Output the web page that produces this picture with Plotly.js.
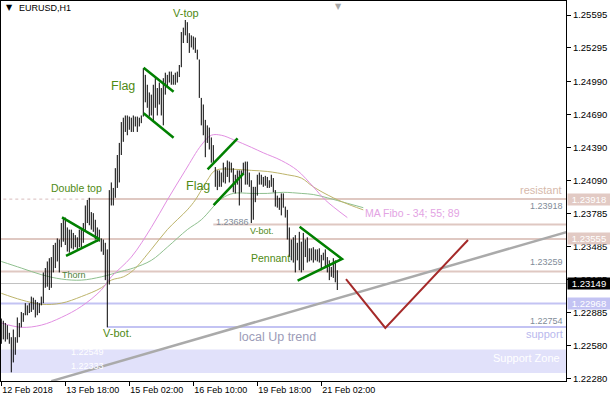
<!DOCTYPE html>
<html>
<head>
<meta charset="utf-8">
<script src="https://cdn.plot.ly/plotly-3.0.1.min.js"></script>
<style>html,body{margin:0;padding:0;background:#fff}#chart{width:610px;height:400px}</style>
</head>
<body>
<div id="chart"></div>
<script>
// ---- Data: EURUSD H1 bars (high / low), one per hour ----
const barHigh = [
1.2283,1.2281,1.2279,1.2277,1.2270,1.2266,1.2273,1.2266,1.2284,1.2279,
1.2289,1.2288,1.2297,1.2295,1.2297,1.2303,1.2302,1.2300,1.2298,1.2297,
1.2303,1.2325,1.2329,1.2335,1.2338,1.2339,1.2350,1.2352,1.2356,1.2355,
1.2370,1.2375,1.2375,1.2366,1.2364,1.2364,1.2361,1.2359,1.2357,1.2364,
1.2364,1.2370,1.2386,1.2391,1.2393,1.2380,1.2379,1.2373,1.2366,1.2364,
1.2356,1.2355,1.2352,1.2346,1.2400,1.2407,1.2402,1.2420,1.2432,1.2443,
1.2462,1.2466,1.2468,1.2468,1.2467,1.2466,1.2468,1.2467,1.2467,1.2466,
1.2468,1.2511,1.2505,1.2496,1.2489,1.2487,1.2496,1.2502,1.2493,1.2498,
1.2493,1.2502,1.2507,1.2505,1.2508,1.2508,1.2505,1.2507,1.2508,1.2514,
1.2544,1.2548,1.2555,1.2553,1.2543,1.2541,1.2540,1.2539,1.2528,1.2519,
1.2484,1.2478,1.2464,1.2459,1.2457,1.2448,1.2441,1.2421,1.2418,1.2418,
1.2416,1.2425,1.2421,1.2427,1.2426,1.2425,1.2420,1.2414,1.2418,1.2418,
1.2418,1.2425,1.2426,1.2426,1.2416,1.2409,1.2403,1.2403,1.2414,1.2416,
1.2414,1.2412,1.2413,1.2412,1.2409,1.2414,1.2411,1.2400,1.2395,1.2393,
1.2397,1.2397,1.2385,1.2382,1.2366,1.2355,1.2357,1.2359,1.2352,1.2362,
1.2353,1.2361,1.2355,1.2357,1.2347,1.2347,1.2348,1.2346,1.2346,1.2347,
1.2341,1.2343,1.2346,1.2339,1.2336,1.2330,1.2338,1.2336,1.2327
];
const barLow = [
1.2260,1.2264,1.2262,1.2264,1.2260,1.2234,1.2243,1.2250,1.2261,1.2266,
1.2275,1.2280,1.2286,1.2286,1.2288,1.2289,1.2291,1.2284,1.2286,1.2288,
1.2295,1.2297,1.2311,1.2312,1.2309,1.2311,1.2325,1.2329,1.2335,1.2325,
1.2348,1.2353,1.2350,1.2344,1.2343,1.2347,1.2346,1.2348,1.2346,1.2348,
1.2348,1.2352,1.2362,1.2370,1.2368,1.2364,1.2362,1.2355,1.2353,1.2353,
1.2344,1.2341,1.2318,1.2275,1.2314,1.2386,1.2386,1.2393,1.2402,1.2407,
1.2432,1.2444,1.2453,1.2450,1.2455,1.2453,1.2453,1.2458,1.2453,1.2458,
1.2461,1.2467,1.2480,1.2475,1.2467,1.2468,1.2462,1.2475,1.2468,1.2478,
1.2468,1.2459,1.2487,1.2494,1.2498,1.2496,1.2496,1.2496,1.2498,1.2503,
1.2512,1.2534,1.2541,1.2534,1.2525,1.2530,1.2528,1.2525,1.2519,1.2484,
1.2459,1.2450,1.2430,1.2443,1.2437,1.2425,1.2425,1.2403,1.2400,1.2403,
1.2403,1.2407,1.2406,1.2412,1.2407,1.2416,1.2398,1.2397,1.2405,1.2386,
1.2398,1.2414,1.2405,1.2405,1.2403,1.2370,1.2373,1.2389,1.2395,1.2405,
1.2405,1.2403,1.2404,1.2402,1.2402,1.2403,1.2398,1.2385,1.2384,1.2382,
1.2377,1.2384,1.2375,1.2355,1.2339,1.2336,1.2334,1.2325,1.2336,1.2327,
1.2325,1.2327,1.2339,1.2334,1.2335,1.2336,1.2334,1.2336,1.2335,1.2334,
1.2327,1.2336,1.2330,1.2325,1.2318,1.2321,1.2320,1.2316,1.2309
];

// Moving averages (MA Fibo 34 / 55 / 89)
const ma34X = [0,10,20,30,40,50,55,65,75,83,92,100,105,110,116,125,131,140,148,156,162,173];
const ma34Y = [1.2279,1.2275,1.2277,1.2284,1.2294,1.2309,1.2321,1.2339,1.2366,1.2391,1.2418,1.2441,1.2450,1.2450,1.2446,1.2439,1.2434,1.2427,1.2418,1.2403,1.2391,1.2375];
const ma55X = [0,10,20,30,40,50,55,61,66,75,83,93,97,100,103,107,116,125,133,143,150,156,166,175,181];
const ma55Y = [1.2306,1.2300,1.2296,1.2297,1.2303,1.2311,1.2318,1.2321,1.2327,1.2346,1.2364,1.2382,1.2391,1.2400,1.2409,1.2418,1.2419,1.2418,1.2417,1.2414,1.2411,1.2403,1.2393,1.2386,1.2382];
const ma89X = [0,10,20,30,40,50,60,66,75,83,93,100,110,116,125,133,141,150,156,163,173,181];
const ma89Y = [1.2335,1.2329,1.2323,1.2319,1.2318,1.2321,1.2326,1.2329,1.2336,1.2348,1.2364,1.2373,1.2392,1.2397,1.2397,1.2397,1.2398,1.2397,1.2396,1.2393,1.2388,1.2384];

// Drawn objects (bar index, price)
const triX  = [30.35,49.15,32.35];           const triY  = [1.23752,1.23552,1.23400];
const flag1UpX = [71.15,86.15];              const flag1UpY = [1.25115,1.24897];
const flag1LoX = [71.15,86.15];              const flag1LoY = [1.24700,1.24478];
const flag2AX = [103.15,118.15];             const flag2AY = [1.24190,1.24472];
const flag2BX = [106.15,121.15];             const flag2BY = [1.23864,1.24153];
const pennX = [149.15,170.35,148.15];        const pennY = [1.23667,1.23373,1.23175];
const projX = [172.35,192,233.35];           const projY = [1.23190,1.22744,1.23546];
const trendX = [25,283];                     const trendY = [1.2226,1.2362];

// Levels
const resistLevel = 1.23918, lvl2 = 1.23686, lvl3 = 1.23555, lvl4 = 1.23259;
const bidLevel = 1.23149, supp1 = 1.22968, supp2 = 1.22754;
const zoneTop = 1.22549, zoneBottom = 1.22333;

// Axis ticks
const xTickIdx = [0,32,64,96,128,160];
const xTickText = ['12 Feb 2018','13 Feb 18:00','15 Feb 02:00','16 Feb 10:00','19 Feb 18:00','21 Feb 02:00'];
const yTicks = [1.25595,1.25295,1.24990,1.24690,1.24390,1.24090,1.23785,1.23485,1.23185,1.22885,1.22580,1.22280];

// ---- Build ----
const bx = [], by = [];
barHigh.forEach((h,i)=>{ bx.push(i,i,null); by.push(barLow[i],h,null); });

const F = 'Liberation Sans, Arial, sans-serif';
const green = '#008000';
const txtGreen = '#4f8a14';
const pink = '#dfc8c2';
const blue = '#c3c3f3';

function seg(x,y,color,w){ return {type:'scatter',mode:'lines',x:x,y:y,line:{color:color,width:w},hoverinfo:'skip',showlegend:false}; }

const traces = [
  {type:'scatter',mode:'lines',x:ma89X,y:ma89Y,line:{color:'#8fc08f',width:1,shape:'spline'},showlegend:false,hoverinfo:'skip'},
  {type:'scatter',mode:'lines',x:ma55X,y:ma55Y,line:{color:'#bdb46b',width:1,shape:'spline'},showlegend:false,hoverinfo:'skip'},
  {type:'scatter',mode:'lines',x:ma34X,y:ma34Y,line:{color:'#e28fe2',width:1,shape:'spline'},showlegend:false,hoverinfo:'skip'},
  seg(trendX,trendY,'#aaaaaa',2.5),
  {type:'scatter',mode:'lines',x:bx,y:by,line:{color:'#000',width:1},connectgaps:false,showlegend:false,hoverinfo:'skip'},
  seg(triX,triY,green,2.5),
  seg(flag1UpX,flag1UpY,green,2.5),
  seg(flag1LoX,flag1LoY,green,2.5),
  seg(flag2AX,flag2AY,green,2.5),
  seg(flag2BX,flag2BY,green,2.5),
  seg(pennX,pennY,green,2.5),
  seg(projX,projY,'#a52a2a',2)
];

function hline(y,x0,x1,color,w,dash){ return {type:'line',xref:'x',yref:'y',x0:x0,x1:x1,y0:y,y1:y,layer:'below',line:{color:color,width:w,dash:dash||'solid'}}; }
const shapes = [
  {type:'rect',xref:'paper',yref:'y',x0:0,x1:1,y0:zoneBottom,y1:zoneTop,fillcolor:'#e1e1fa',line:{width:0},layer:'below'},
  hline(resistLevel,-2,43.5,'#d8bcbc',1,'dot'),
  hline(resistLevel,43.5,300,pink,2),
  hline(lvl2,106,300,pink,2),
  hline(lvl3,-2,300,pink,2),
  hline(lvl4,-2,300,pink,2),
  hline(bidLevel,-2,300,'#c0c0c0',1),
  hline(supp1,-2,300,blue,2),
  hline(supp2,53,300,blue,2)
];

function t(text,x,y,size,color,xa){ return {text:text,x:x,y:y,xref:'x',yref:'y',showarrow:false,font:{family:F,size:size,color:color},xanchor:xa||'center',yanchor:'middle'}; }
function tr(text,y,size,color,xs){ return {text:text,x:1,y:y,xref:'paper',yref:'y',showarrow:false,font:{family:F,size:size,color:color},xanchor:'right',yanchor:'middle',xshift:xs||-1}; }
function box(text,y,bg){ return {text:text,x:1,y:y,xref:'paper',yref:'y',showarrow:false,font:{family:F,size:9.5,color:'#fff'},xanchor:'left',yanchor:'middle',xshift:1,bgcolor:bg,width:42,height:11,borderpad:0}; }

const annotations = [
  t('V-top',92.5,1.25614,11,txtGreen),
  t('Flag',61,1.24949,12.5,txtGreen),
  t('Double top',37.5,1.24019,10.5,txtGreen),
  t('Thorn',36.25,1.23227,9,'#4d7f3a'),
  t('V-bot.',58,1.22698,11,txtGreen),
  t('Flag',98.5,1.24038,12.5,txtGreen),
  t('1.23686',115.5,1.23710,9,'#7f8c99'),
  t('V-bot.',130.5,1.23628,9,txtGreen),
  t('Pennant',134.5,1.23382,10.5,txtGreen),
  t('MA Fibo - 34; 55; 89',181,1.23792,10.5,'#e3a3e3','left'),
  t('local Up trend',138,1.22662,12.5,'#9c9cb8'),
  t('1.22549',34,1.22525,9,'#ffffff','left'),
  t('1.22333',34,1.22398,9,'#ffffff','left'),
  tr('resistant',1.24001,11,'#d6b9ab',-2),
  tr('1.23918',1.23855,9,'#7f8c99',-1),
  tr('1.23259',1.23345,9,'#7f8c99',-1),
  tr('1.22754',1.22808,9,'#7f8c99',-1),
  tr('support',1.22689,11,'#b9b9ee',-1),
  tr('Support Zone',1.22471,11,'#ffffff',-4),
  box('1.23918',resistLevel,'#e2cac4'),
  box('1.23555',lvl3,'#e2cac4'),
  box('1.23149',bidLevel,'#000000'),
  box('1.22968',supp1,'#c3c3f3'),
  {text:'▼',x:0.005,y:0.982,xref:'paper',yref:'paper',showarrow:false,font:{family:'DejaVu Sans',size:8,color:'#000'},xanchor:'left',yanchor:'middle'},
  {text:'EURUSD,H1',x:0.028,y:0.982,xref:'paper',yref:'paper',showarrow:false,font:{family:F,size:9,color:'#000'},xanchor:'left',yanchor:'middle'},
  {text:'▼',x:168.5,y:1,xref:'x',yref:'paper',showarrow:false,font:{family:'DejaVu Sans',size:8,color:'#a8a8a8'},xanchor:'center',yanchor:'top',yshift:1}
];

const layout = {
  width:610, height:400,
  margin:{l:1,r:44,t:1,b:19,pad:0},
  paper_bgcolor:'#fff', plot_bgcolor:'#fff',
  showlegend:false,
  xaxis:{range:[-0.15,282.35],tickvals:xTickIdx,ticktext:xTickText,ticks:'outside',ticklen:4,tickcolor:'#000',
         ticklabelposition:'outside right',showgrid:false,zeroline:false,showline:true,linecolor:'#000',linewidth:1,mirror:true,
         tickfont:{family:F,size:9,color:'#000'},fixedrange:true},
  yaxis:{range:[1.22261,1.25723],side:'right',tickvals:yTicks,ticktext:yTicks.map(v=>v.toFixed(5)),ticks:'outside',ticklen:4,tickcolor:'#000',
         showgrid:false,zeroline:false,showline:true,linecolor:'#000',linewidth:1,mirror:true,
         tickfont:{family:F,size:9.5,color:'#000'},fixedrange:true},
  shapes:shapes,
  annotations:annotations
};

Plotly.newPlot('chart',traces,layout,{staticPlot:true,displayModeBar:false});
</script>
</body>
</html>
